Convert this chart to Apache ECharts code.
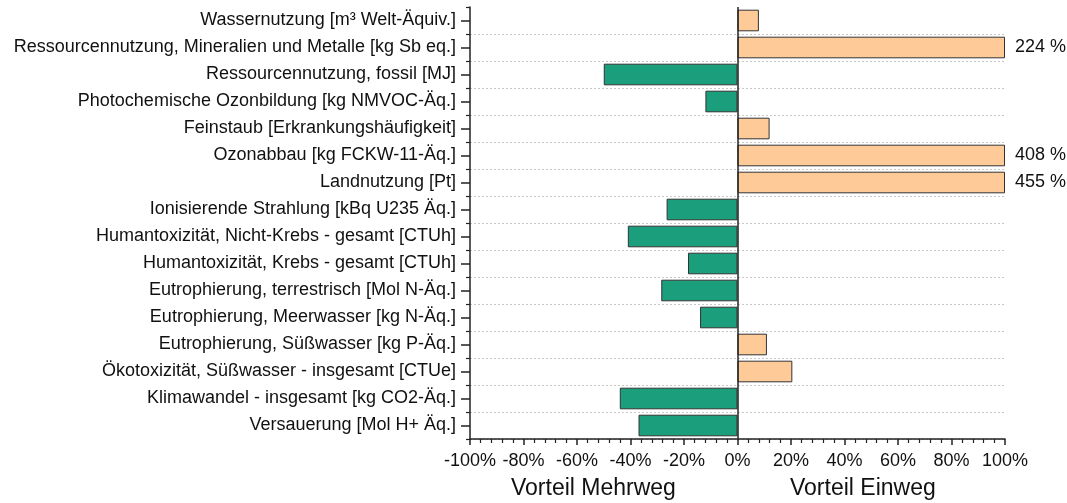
<!DOCTYPE html>
<html>
<head>
<meta charset="utf-8">
<script src="https://cdn.jsdelivr.net/npm/echarts@6/dist/echarts.min.js"></script>
<style>
  html, body { margin: 0; padding: 0; background: #fff; }
  #chart { width: 1067px; height: 503px; }
</style>
</head>
<body>
<div id="chart"></div>
<script>
// categories, top to bottom
const categories = [
  'Wassernutzung [m³ Welt-Äquiv.]',
  'Ressourcennutzung, Mineralien und Metalle [kg Sb eq.]',
  'Ressourcennutzung, fossil [MJ]',
  'Photochemische Ozonbildung [kg NMVOC-Äq.]',
  'Feinstaub [Erkrankungshäufigkeit]',
  'Ozonabbau [kg FCKW-11-Äq.]',
  'Landnutzung [Pt]',
  'Ionisierende Strahlung [kBq U235 Äq.]',
  'Humantoxizität, Nicht-Krebs - gesamt [CTUh]',
  'Humantoxizität, Krebs - gesamt [CTUh]',
  'Eutrophierung, terrestrisch [Mol N-Äq.]',
  'Eutrophierung, Meerwasser [kg N-Äq.]',
  'Eutrophierung, Süßwasser [kg P-Äq.]',
  'Ökotoxizität, Süßwasser - insgesamt [CTUe]',
  'Klimawandel - insgesamt [kg CO2-Äq.]',
  'Versauerung [Mol H+ Äq.]'
]

// difference in % (negative = Vorteil Mehrweg, positive = Vorteil Einweg)
const values = [8, 224, -50, -12, 12, 408, 455, -26.5, -41, -18.5, -28.5, -14, 11, 20.5, -44, -37]

const xTicks = [-100, -80, -60, -40, -20, 0, 20, 40, 60, 80, 100]

const GREEN = '#1b9e7c'
const PEACH = '#fdca98'
const FONT = 'Liberation Sans, Arial, sans-serif'
const TEXT = '#111'

const axisMax = xTicks[xTicks.length - 1]

const barData = values.map(v => {
  const item = { value: Math.min(v, axisMax) }
  if (v > axisMax) {
    item.label = {
      show: true,
      position: 'right',
      distance: 10,
      formatter: v + ' %',
      fontSize: 18,
      fontFamily: FONT,
      color: TEXT
    }
  }
  return item
})

const chart = echarts.init(document.getElementById('chart'))

chart.setOption({
  animation: false,
  grid: {
    left: 470,
    right: 62,
    top: 7,
    bottom: 64
  },
  xAxis: {
    type: 'value',
    min: xTicks[0],
    max: axisMax,
    interval: 20,
    axisLine: { show: true, onZero: false, lineStyle: { color: '#222', width: 1.5 } },
    axisTick: { show: true, length: 6, lineStyle: { color: '#222', width: 1.5 } },
    minorTick: { show: true, splitNumber: 5, length: 4, lineStyle: { color: '#222', width: 1.2 } },
    splitLine: { show: false },
    axisLabel: {
      formatter: '{value}%',
      fontSize: 18,
      fontFamily: FONT,
      color: TEXT,
      margin: 13
    }
  },
  yAxis: [
    {
      type: 'category',
      data: categories,
      inverse: true,
      axisLine: { show: true, onZero: false, lineStyle: { color: '#222', width: 1.5 } },
      axisTick: { show: true, alignWithLabel: true, length: 9, lineStyle: { color: '#222', width: 1.5 } },
      splitLine: { show: false },
      axisLabel: {
        fontSize: 18,
        fontFamily: FONT,
        color: TEXT,
        margin: 14
      }
    },
    {
      // boundary ticks + dashed gridlines between categories
      type: 'category',
      data: categories,
      inverse: true,
      position: 'left',
      axisLine: { show: false, onZero: false },
      axisTick: { show: true, length: 4, lineStyle: { color: '#222', width: 1.2 } },
      axisLabel: { show: false },
      splitLine: {
        show: true,
        interval: (i) => i > 0,
        lineStyle: { color: '#c8c8c8', type: [2, 2], width: 1 }
      }
    }
  ],
  graphic: [
    {
      type: 'text',
      left: 511,
      top: 477,
      style: { text: 'Vorteil Mehrweg', fontSize: 23, fontFamily: FONT, fill: TEXT }
    },
    {
      type: 'text',
      left: 790,
      top: 477,
      style: { text: 'Vorteil Einweg', fontSize: 23, fontFamily: FONT, fill: TEXT }
    }
  ],
  series: [{
    type: 'bar',
    yAxisIndex: 0,
    barWidth: '80%',
    data: barData,
    itemStyle: {
      color: p => (p.value < 0 ? GREEN : PEACH),
      borderColor: '#333',
      borderWidth: 1
    },
    markLine: {
      silent: true,
      symbol: 'none',
      label: { show: false },
      lineStyle: { color: '#222', width: 1.5, type: 'solid' },
      data: [{ xAxis: 0 }]
    }
  }]
})
</script>
</body>
</html>
